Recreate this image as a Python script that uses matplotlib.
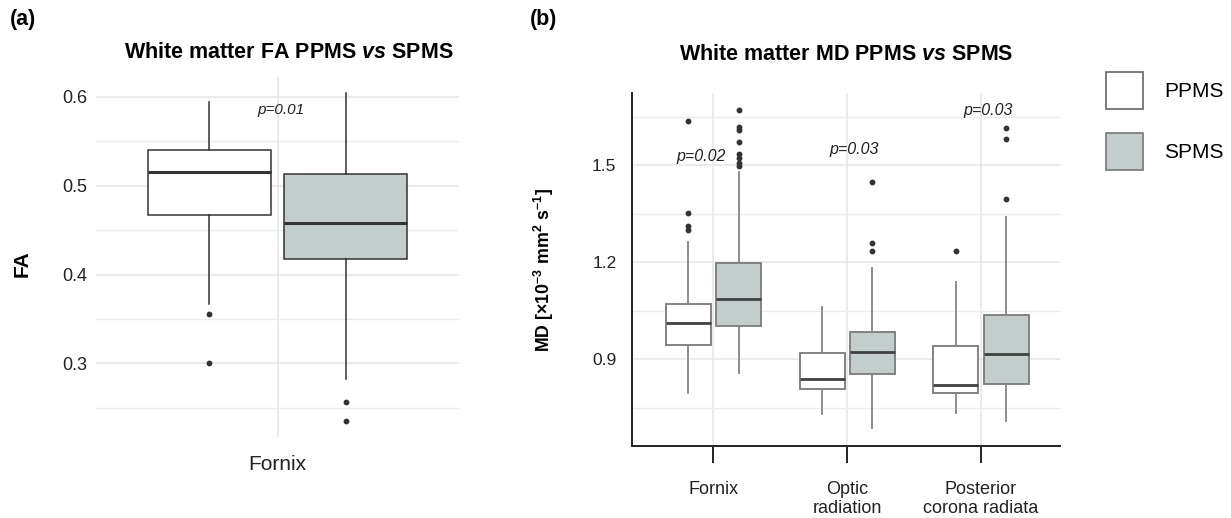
import matplotlib
matplotlib.use("Agg")
import matplotlib.pyplot as plt
from matplotlib.patches import Patch

plt.rcParams['font.family'] = ['Liberation Sans', 'DejaVu Sans']
plt.rcParams['mathtext.fontset'] = 'custom'
plt.rcParams['mathtext.rm'] = 'Liberation Sans'
plt.rcParams['mathtext.it'] = 'Liberation Sans:italic'
plt.rcParams['mathtext.bf'] = 'Liberation Sans:bold'
plt.rcParams['mathtext.bfit'] = 'Liberation Sans:italic:bold'

# ----- Data -----
groups = ["PPMS", "SPMS"]
fill_colors = ["#ffffff", "#c3cdcc"]

# (a) FA, fornix only
fa_whislo = [0.367, 0.282]
fa_q1 = [0.467, 0.417]
fa_med = [0.516, 0.458]
fa_q3 = [0.540, 0.513]
fa_whishi = [0.594, 0.604]
fa_fliers = [[0.356, 0.300], [0.256, 0.235]]
fa_p = "p=0.01"

# (b) MD per region
regions = ["Fornix", "Optic\nradiation", "Posterior\ncorona radiata"]
md_ppms_whislo = [0.796, 0.730, 0.734]
md_ppms_q1 = [0.943, 0.806, 0.794]
md_ppms_med = [1.012, 0.839, 0.819]
md_ppms_q3 = [1.070, 0.918, 0.941]
md_ppms_whishi = [1.263, 1.060, 1.137]
md_ppms_fliers = [[1.636, 1.351, 1.311, 1.299], [], [1.234]]

md_spms_whislo = [0.856, 0.686, 0.709]
md_spms_q1 = [1.002, 0.854, 0.822]
md_spms_med = [1.087, 0.923, 0.915]
md_spms_q3 = [1.196, 0.985, 1.035]
md_spms_whishi = [1.479, 1.181, 1.338]
md_spms_fliers = [[1.670, 1.618, 1.610, 1.572, 1.534, 1.521, 1.505, 1.497],
                  [1.448, 1.258, 1.235],
                  [1.614, 1.580, 1.396]]

md_p = ["p=0.02", "p=0.03", "p=0.03"]
md_p_x = [0.906, 2.054, 3.05]
md_p_y = [1.528, 1.549, 1.668]


def make_stats(lo, q1, med, q3, hi, fl):
    return [dict(whislo=lo[i], q1=q1[i], med=med[i], q3=q3[i], whishi=hi[i],
                 fliers=fl[i]) for i in range(len(lo))]


def style_boxes(res, faces, edge, whisk, medc, lw_box, lw_med):
    for b, fc in zip(res['boxes'], faces):
        b.set_facecolor(fc)
        b.set_edgecolor(edge)
        b.set_linewidth(lw_box)
    for w in res['whiskers']:
        w.set_color(whisk)
        w.set_linewidth(lw_box)
    for m in res['medians']:
        m.set_color(medc)
        m.set_linewidth(lw_med)
    for f in res['fliers']:
        f.set_marker('o')
        f.set_markerfacecolor('#333333')
        f.set_markeredgecolor('#333333')
        f.set_markersize(3.2)


fig = plt.figure(figsize=(12.31, 5.18), dpi=100)

# ---- Panel (a) ----
ax1 = fig.add_axes([96 / 1231, 1 - 437 / 518, 363 / 1231, 360 / 518])
fa_stats = make_stats(fa_whislo, fa_q1, fa_med, fa_q3, fa_whishi, fa_fliers)
res = ax1.bxp(fa_stats, positions=[1 - 0.1875, 1 + 0.1875], widths=0.339,
              patch_artist=True, showcaps=False)
style_boxes(res, fill_colors, '#333333', '#333333', '#333333', 1.1, 2.2)
ax1.set_xlim(0.5, 1.5)
ax1.set_ylim(0.217, 0.6225)
ax1.set_yticks([0.3, 0.4, 0.5, 0.6])
ax1.set_yticks([0.25, 0.35, 0.45, 0.55], minor=True)
ax1.set_xticks([1])
ax1.set_xticklabels(["Fornix"], fontsize=15)
ax1.tick_params(axis='y', labelsize=13, length=0, pad=6, labelcolor='#222222')
ax1.tick_params(axis='y', which='minor', length=0)
ax1.tick_params(axis='x', length=0, pad=13, labelcolor='#222222')
ax1.grid(True, which='major', color='#e6e6e6', lw=1.1)
ax1.grid(True, which='minor', axis='y', color='#ececec', lw=1.0)
ax1.set_axisbelow(True)
for s in ax1.spines.values():
    s.set_visible(False)
ax1.text(1.01, 0.585, fa_p, style='italic', fontsize=11, ha='center',
         va='center', color='#222222')

fig.text(289 / 1231, 1 - 53 / 518,
         r"White matter FA PPMS $\mathbfit{vs}$ SPMS",
         fontsize=15.5, fontweight='bold', ha='center', va='center')
fig.text(22.5 / 1231, 1 - 264 / 518, "FA", fontsize=15, fontweight='bold',
         rotation=90, ha='center', va='center')
fig.text(10 / 1231, 1 - 20 / 518, "(a)", fontsize=15.5, fontweight='bold',
         ha='left', va='center')

# ---- Panel (b) ----
ax2 = fig.add_axes([631.7 / 1231, 1 - 446 / 518, 428.3 / 1231, 352.7 / 518])
x = list(range(1, len(regions) + 1))
ppms_stats = make_stats(md_ppms_whislo, md_ppms_q1, md_ppms_med, md_ppms_q3,
                        md_ppms_whishi, md_ppms_fliers)
spms_stats = make_stats(md_spms_whislo, md_spms_q1, md_spms_med, md_spms_q3,
                        md_spms_whishi, md_spms_fliers)
r1 = ax2.bxp(ppms_stats, positions=[i - 0.188 for i in x], widths=0.336,
             patch_artist=True, showcaps=False)
style_boxes(r1, [fill_colors[0]] * 3, '#7a7a7a', '#858585', '#404040', 1.3, 2.0)
r2 = ax2.bxp(spms_stats, positions=[i + 0.188 for i in x], widths=0.336,
             patch_artist=True, showcaps=False)
style_boxes(r2, [fill_colors[1]] * 3, '#7a7a7a', '#858585', '#404040', 1.3, 2.0)
ax2.set_xlim(0.39, 3.59)
ax2.set_ylim(0.631, 1.722)
ax2.set_yticks([0.9, 1.2, 1.5])
ax2.set_yticks([0.75, 1.05, 1.35, 1.65], minor=True)
ax2.set_xticks(x)
ax2.set_xticklabels(regions, fontsize=13, linespacing=1.2)
ax2.tick_params(axis='y', labelsize=12.5, length=0, pad=11, labelcolor='#222222')
ax2.tick_params(axis='y', which='minor', length=0)
ax2.tick_params(axis='x', length=12, width=1.4, color='#222222', pad=13,
                labelcolor='#222222')
ax2.grid(True, which='major', color='#e6e6e6', lw=1.1)
ax2.grid(True, which='minor', axis='y', color='#ececec', lw=1.0)
ax2.set_axisbelow(True)
ax2.spines['top'].set_visible(False)
ax2.spines['right'].set_visible(False)
ax2.spines['left'].set_color('#222222')
ax2.spines['bottom'].set_color('#222222')
ax2.spines['left'].set_linewidth(1.4)
ax2.spines['bottom'].set_linewidth(1.4)
for i in range(len(md_p)):
    ax2.text(md_p_x[i], md_p_y[i], md_p[i], style='italic', fontsize=11.5,
             ha='center', va='center', color='#222222')

fig.text(846 / 1231, 1 - 55 / 518,
         r"White matter MD PPMS $\mathbfit{vs}$ SPMS",
         fontsize=15.5, fontweight='bold', ha='center', va='center')
fig.text(544 / 1231, 1 - 270 / 518,
         r"MD [×10$^{\mathbf{-3}}$ mm$^{\mathbf{2}}$ s$^{\mathbf{-1}}$]",
         fontsize=12.8, fontweight='bold', rotation=90, ha='center', va='center')
fig.text(530 / 1231, 1 - 20 / 518, "(b)", fontsize=15.5, fontweight='bold',
         ha='left', va='center')

# ---- Legend ----
handles = [Patch(facecolor=fill_colors[0], edgecolor='#666666', lw=1.2),
           Patch(facecolor=fill_colors[1], edgecolor='#777777', lw=1.2)]
fig.legend(handles, groups, loc='upper left',
           bbox_to_anchor=(1106 / 1231, 1 - 72 / 518), frameon=False,
           fontsize=15, handlelength=1.78, handleheight=2.36,
           handletextpad=1.0, labelspacing=1.14, borderpad=0, borderaxespad=0)

fig.savefig("out.png", dpi=100)
